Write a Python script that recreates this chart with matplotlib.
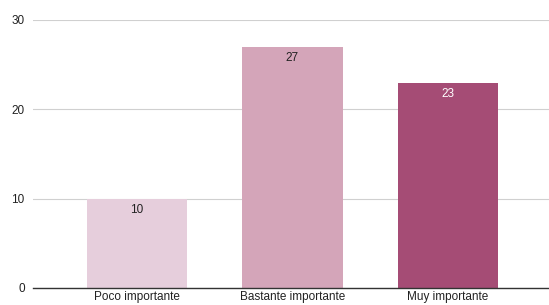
import matplotlib
matplotlib.use('Agg')
from matplotlib import pyplot as plt

categories = ['Poco importante', 'Bastante importante', 'Muy importante']
values = [10, 27, 23]
colors = ['#e6cedc', '#d4a5b9', '#a54c75']
label_colors = ['#222222', '#222222', '#ffffff']
yticks = [0, 10, 20, 30]

plt.rcParams['font.family'] = ['Liberation Sans', 'DejaVu Sans']

fig = plt.figure(figsize=(5.49, 3.05), dpi=100)
ax = fig.add_axes([33 / 549, 17 / 305, 1 - 33 / 549, 268 / 305])

x = list(range(len(categories)))
bars = ax.bar(x, values, width=0.645, color=colors, zorder=3)

for bar, val, lc in zip(bars, values, label_colors):
    ax.annotate(str(val), (bar.get_x() + bar.get_width() / 2, val),
                xytext=(0, -4), textcoords='offset points',
                ha='center', va='top', fontsize=8.5, color=lc, zorder=4)

ax.set_xlim(-0.669, 2.65)
ax.set_ylim(0, 30)
ax.set_yticks(yticks)
ax.set_xticks(x)
ax.set_xticklabels(categories)
ax.tick_params(axis='both', length=0, labelsize=8.5, colors='#222222')
ax.tick_params(axis='y', pad=6)
ax.tick_params(axis='x', pad=2.5)
ax.grid(axis='y', color='#d0d0d0', linewidth=0.8, zorder=0)
for side in ['top', 'right', 'left']:
    ax.spines[side].set_visible(False)
ax.spines['bottom'].set_color('#333333')
ax.spines['bottom'].set_linewidth(1)
ax.spines['bottom'].set_zorder(5)

plt.savefig('out.png', dpi=100)
